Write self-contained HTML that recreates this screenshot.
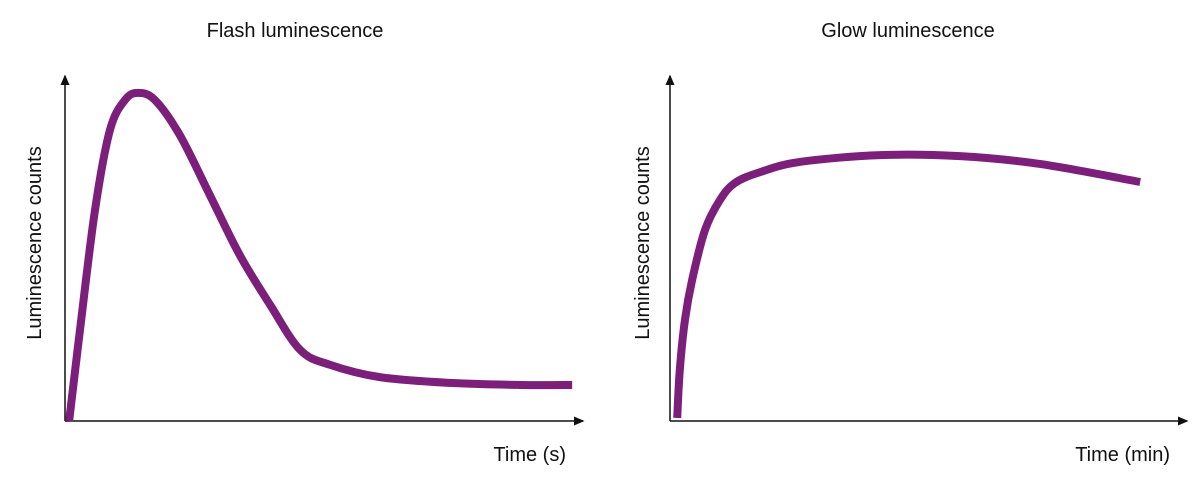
<!DOCTYPE html>
<html><head><meta charset="utf-8"><style>
body{margin:0;background:#fff;}
svg text{font-family:"Liberation Sans",sans-serif;fill:#111;}
</style></head><body>
<svg width="1200" height="489" viewBox="0 0 1200 489">
<defs><marker id="ar" markerWidth="8" markerHeight="8" refX="6" refY="4" orient="auto"><path d="M0,1 L7,4 L0,7 Z" fill="#111"/></marker></defs>
<g id="flash">
<text x="295" y="37" font-size="20" text-anchor="middle">Flash luminescence</text>
<line x1="65" y1="421" x2="65" y2="76" stroke="#111" stroke-width="1.5" marker-end="url(#ar)"/>
<line x1="65" y1="421" x2="583" y2="421" stroke="#111" stroke-width="1.5" marker-end="url(#ar)"/>
<text transform="translate(41,243) rotate(-90)" font-size="20" text-anchor="middle">Luminescence counts</text>
<text x="566" y="461" font-size="20" text-anchor="end">Time (s)</text>
</g>
<g id="glow">
<text x="908" y="37" font-size="20" text-anchor="middle">Glow luminescence</text>
<line x1="670" y1="421" x2="670" y2="76" stroke="#111" stroke-width="1.5" marker-end="url(#ar)"/>
<line x1="670" y1="421" x2="1187" y2="421" stroke="#111" stroke-width="1.5" marker-end="url(#ar)"/>
<text transform="translate(649,243) rotate(-90)" font-size="20" text-anchor="middle">Luminescence counts</text>
<text x="1170" y="461" font-size="20" text-anchor="end">Time (min)</text>
</g>
</svg>
<script>
const flashT=[0.08,0.29,0.58,0.87,1.16,1.41,1.74,2.22,2.80,3.38,3.97,4.55,5.13,6.09,7.45,8.80,9.81];
const flashV=[0,26.8,62,85.6,94.4,96.5,94.4,84.1,66.5,48.8,34.1,20.9,16.5,12.9,11.2,10.6,10.6];
const glowT=[0.14,0.19,0.29,0.43,0.68,0.97,1.26,1.75,2.52,4.08,5.63,7.18,9.13];
const glowV=[0.9,15,29.7,41.5,56.2,65,70,73.2,76.2,78.2,77.9,75.6,70.3];
function xs(x0,w){return t=>x0+t*w/10;}
function ys(v){return 421-v*3.4;}
function path(T,V,xf){
  const p=T.map((t,i)=>[xf(t),ys(V[i])]);
  let d='M'+p[0][0]+','+p[0][1];
  for(let i=0;i<p.length-1;i++){
    const a=p[Math.max(0,i-1)],b=p[i],c=p[i+1],e=p[Math.min(p.length-1,i+2)];
    const c1=[b[0]+(c[0]-a[0])/6,b[1]+(c[1]-a[1])/6],c2=[c[0]-(e[0]-b[0])/6,c[1]-(e[1]-b[1])/6];
    d+=' C'+c1+' '+c2+' '+c;
  }
  return d;
}
function draw(gid,T,V,xf,name){
  const el=document.createElementNS('http://www.w3.org/2000/svg','path');
  el.setAttribute('d',path(T,V,xf));
  el.setAttribute('fill','none');el.setAttribute('stroke','#7b1f7a');el.setAttribute('stroke-width','8');
  
  
  document.getElementById(gid).appendChild(el);
}
draw('flash',flashT,flashV,xs(65,517),'flash-curve');
draw('glow',glowT,glowV,xs(670,515),'glow-curve');
</script>
</body></html>
